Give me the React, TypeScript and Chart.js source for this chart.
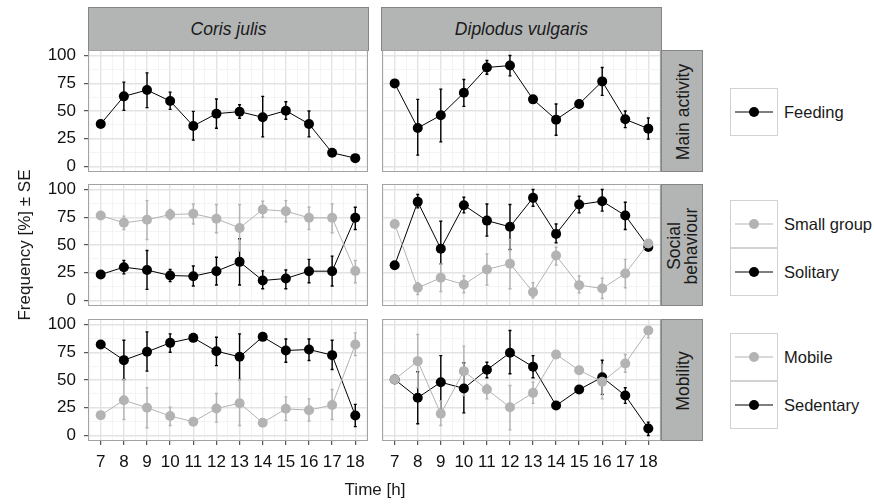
import React, { useEffect, useRef } from "react";
import { Chart, registerables } from "chart.js";
Chart.register(...registerables);

// ---------- data ----------
const hours = [7, 8, 9, 10, 11, 12, 13, 14, 15, 16, 17, 18];
const yTickValues = [0, 25, 50, 75, 100];
const speciesNames = ["Coris julis", "Diplodus vulgaris"];
const rowNames = ["Main activity", "Social\nbehaviour", "Mobility"];

// Main activity – Feeding
const corisFeedingMean = [38.3, 63.2, 68.9, 59, 36.5, 47.6, 49.4, 44.3, 50.3, 38.3, 12.3, 7.5];
const corisFeedingLo = [38.3, 50.6, 53, 51.5, 23.7, 34.5, 43.4, 26.7, 42.5, 26.7, 12.3, 7.5];
const corisFeedingHi = [38.3, 76, 84.4, 67, 49.7, 60.8, 55.7, 63.2, 58.3, 50, 12.3, 7.5];
const diplodusFeedingMean = [74.9, 34.7, 46.1, 66.4, 89.2, 91, 60.5, 42.2, 56.3, 76.7, 42.5, 34.1];
const diplodusFeedingLo = [74.9, 10.2, 22.2, 54.2, 83.2, 81.7, 60.5, 28.2, 56.3, 64.1, 35, 24.6];
const diplodusFeedingHi = [74.9, 60.5, 69.7, 78.4, 95.5, 100, 60.5, 56.3, 56.3, 89.2, 50, 43.7];

// Social behaviour – Small group / Solitary
const corisSmallMean = [76.6, 70, 72.7, 77.5, 78.1, 73.6, 65.4, 82, 80.5, 74.5, 74.5, 26.5];
const corisSmallLo = [76.6, 64, 55, 73, 69, 61, 44.5, 75, 70.9, 64, 61, 16];
const corisSmallHi = [76.6, 76, 90, 82, 87, 86.5, 86.5, 89.5, 90, 84, 87, 36];
const corisSolitaryMean = [23.4, 30, 27.4, 22.5, 21.9, 26.4, 34.8, 18, 19.8, 26.4, 26.4, 74.5];
const corisSolitaryLo = [23.4, 24, 10, 17, 13, 14, 14, 10.6, 10.6, 16, 13, 64];
const corisSolitaryHi = [23.4, 36, 45, 28, 31, 39, 55.6, 26.7, 27.5, 37, 40, 84];
const diplodusSmallMean = [69, 11.4, 20.4, 14.4, 28, 33.2, 7.5, 40.5, 13.8, 10.8, 24.3, 51.4];
const diplodusSmallLo = [69, 5.4, 8, 7, 14, 10.6, 2.4, 32, 7, 1.8, 11.5, 51.4];
const diplodusSmallHi = [69, 16, 33, 22, 42, 55, 16, 48, 22, 20, 37, 51.4];
const diplodusSolitaryMean = [31.8, 88.9, 46.6, 85.9, 72, 66.4, 92.5, 60, 86.5, 89.5, 76.6, 48.3];
const diplodusSolitaryLo = [31.8, 83.5, 33, 79, 58, 46, 85, 52, 79, 80.5, 64, 48.3];
const diplodusSolitaryHi = [31.8, 95.5, 71.4, 93, 87, 86.5, 100, 69, 94, 100, 88.6, 48.3];

// Mobility – Mobile / Sedentary
const corisMobileMean = [18.3, 31.8, 25, 17.5, 12.4, 24.3, 29.1, 11.5, 24, 22.8, 27.4, 82];
const corisMobileLo = [18.3, 14.4, 7, 9, 12.4, 12, 9, 11.5, 13.5, 13, 14.4, 72];
const corisMobileHi = [18.3, 50.5, 43, 25.5, 12.4, 37.8, 50.5, 11.5, 34.8, 33, 41.4, 92.5];
const corisSedentaryMean = [82, 67.9, 75.4, 83.5, 88, 76, 70.9, 88.9, 76.6, 77.5, 72.4, 18];
const corisSedentaryLo = [82, 50.5, 58, 75, 88, 63, 50.5, 88.9, 66, 67.6, 59.5, 8];
const corisSedentaryHi = [82, 85.9, 93.4, 91.6, 88, 88.6, 91.6, 88.9, 87, 87, 85.9, 28];
const diplodusMobileMean = [50.5, 67, 19.5, 58, 41.4, 25.5, 38.4, 73, 58.8, 48.5, 64.9, 94.6];
const diplodusMobileLo = [50.5, 43, 9, 36, 33, 5, 28.9, 73, 58.8, 33, 57, 88];
const diplodusMobileHi = [50.5, 91, 31, 80.5, 46, 45, 48, 73, 58.8, 64, 73, 98];
const diplodusSedentaryMean = [50.5, 34, 48, 42.4, 59.2, 74.5, 61.9, 27, 41.4, 52.5, 36, 6.3];
const diplodusSedentaryLo = [50.5, 10.5, 23.4, 20.4, 52, 55.6, 52, 27, 41.4, 37, 28.9, 0];
const diplodusSedentaryHi = [50.5, 57.5, 72, 65.5, 66, 94.6, 72, 27, 41.4, 67.8, 43, 12];

// ---------- styling ----------
const GRAY = "#b3b3b3";
const BLACK = "#000000";
const FONT = "'Liberation Sans', Arial, Helvetica, sans-serif";

type Series = { label: string; color: string; mean: number[]; lo: number[]; hi: number[] };

const s = (label: string, color: string, mean: number[], lo: number[], hi: number[]): Series => ({ label, color, mean, lo, hi });

const panels: Series[][][] = [
  [
    [s("Feeding", BLACK, corisFeedingMean, corisFeedingLo, corisFeedingHi)],
    [s("Feeding", BLACK, diplodusFeedingMean, diplodusFeedingLo, diplodusFeedingHi)],
  ],
  [
    [
      s("Small group", GRAY, corisSmallMean, corisSmallLo, corisSmallHi),
      s("Solitary", BLACK, corisSolitaryMean, corisSolitaryLo, corisSolitaryHi),
    ],
    [
      s("Small group", GRAY, diplodusSmallMean, diplodusSmallLo, diplodusSmallHi),
      s("Solitary", BLACK, diplodusSolitaryMean, diplodusSolitaryLo, diplodusSolitaryHi),
    ],
  ],
  [
    [
      s("Mobile", GRAY, corisMobileMean, corisMobileLo, corisMobileHi),
      s("Sedentary", BLACK, corisSedentaryMean, corisSedentaryLo, corisSedentaryHi),
    ],
    [
      s("Mobile", GRAY, diplodusMobileMean, diplodusMobileLo, diplodusMobileHi),
      s("Sedentary", BLACK, diplodusSedentaryMean, diplodusSedentaryLo, diplodusSedentaryHi),
    ],
  ],
];

// layout (page pixels)
const PANEL_L = [88, 381];
const PANEL_W = 281;
const PANEL_T = [50, 184, 319];
const PANEL_H = 122;
const Y_AXIS_W = 88;
const X_AXIS_H = 34;
const PAD = 10;

const xMinorTicks = hours.slice(0, -1).map((h, i) => (h + hours[i + 1]) / 2);
const xAllTicks = [hours[0] - 0.5, ...hours, ...xMinorTicks, hours[hours.length - 1] + 0.5];
const yMinorTicks = yTickValues.slice(0, -1).map((v, i) => (v + yTickValues[i + 1]) / 2);
const yAllTicks = [...yTickValues, ...yMinorTicks];

const errorBarPlugin = {
  id: "errorBars",
  beforeDatasetsDraw(chart: any) {
    const { ctx, chartArea, scales } = chart;
    const xs = scales.x;
    const ys = scales.y;
    ctx.save();
    ctx.beginPath();
    ctx.rect(chartArea.left, chartArea.top, chartArea.right - chartArea.left, chartArea.bottom - chartArea.top);
    ctx.clip();
    const list = chart.data.datasets;
    for (let d = list.length - 1; d >= 0; d--) {
      const ds = list[d];
      ctx.strokeStyle = ds.borderColor;
      ctx.lineWidth = 1.4;
      ds.lo.forEach((lo: number, i: number) => {
        const hi = ds.hi[i];
        if (hi - lo < 0.01) return;
        const x = xs.getPixelForValue(ds.data[i].x);
        const y1 = ys.getPixelForValue(lo);
        const y2 = ys.getPixelForValue(hi);
        ctx.beginPath();
        ctx.moveTo(x, y1);
        ctx.lineTo(x, y2);
        ctx.moveTo(x - 1.5, y1);
        ctx.lineTo(x + 1.5, y1);
        ctx.moveTo(x - 1.5, y2);
        ctx.lineTo(x + 1.5, y2);
        ctx.stroke();
      });
    }
    ctx.restore();
  },
};

const borderPlugin = {
  id: "panelBorder",
  afterDraw(chart: any) {
    const { ctx, chartArea } = chart;
    ctx.save();
    ctx.strokeStyle = "#a3a3a3";
    ctx.lineWidth = 1;
    ctx.strokeRect(
      Math.round(chartArea.left) + 0.5,
      Math.round(chartArea.top) + 0.5,
      Math.round(chartArea.right - chartArea.left) - 1,
      Math.round(chartArea.bottom - chartArea.top) - 1
    );
    ctx.restore();
  },
};

function Panel({ row, col }: { row: number; col: number }) {
  const ref = useRef<HTMLCanvasElement>(null);
  const showY = col === 0;
  const showX = row === panels.length - 1;
  const left = showY ? 0 : PANEL_L[col] - 4;
  const top = PANEL_T[row] - PAD;
  const width = (showY ? Y_AXIS_W : 4) + PANEL_W + 4;
  const height = PAD + PANEL_H + (showX ? X_AXIS_H + 4 : PAD);

  useEffect(() => {
    const series = panels[row][col];
    const isMajorX = (v: number) => hours.includes(v);
    const isMajorY = (v: number) => yTickValues.includes(v);
    const chart = new Chart(ref.current as HTMLCanvasElement, {
      type: "line",
      data: {
        datasets: series.map((sr) => ({
          label: sr.label,
          data: hours.map((h, i) => ({ x: h, y: sr.mean[i] })),
          borderColor: sr.color,
          backgroundColor: sr.color,
          pointBackgroundColor: sr.color,
          pointBorderWidth: 0,
          pointRadius: 5,
          borderWidth: 1,
          tension: 0,
          lo: sr.lo,
          hi: sr.hi,
        })) as any,
      },
      options: {
        animation: false,
        responsive: false,
        maintainAspectRatio: false,
        events: [],
        layout: {
          padding: { top: PAD, bottom: showX ? 4 : PAD, left: showY ? 0 : 4, right: 4 },
        },
        plugins: { legend: { display: false }, tooltip: { enabled: false } },
        scales: {
          x: {
            type: "linear",
            min: 6.45,
            max: 18.55,
            afterBuildTicks: (sc: any) => {
              sc.ticks = xAllTicks.map((v) => ({ value: v }));
            },
            afterFit: (sc: any) => {
              sc.height = showX ? X_AXIS_H : 0;
              sc.paddingLeft = 0;
              sc.paddingRight = 0;
              sc.paddingTop = 0;
              sc.paddingBottom = 0;
            },
            border: { display: false },
            grid: {
              color: (c: any) => (isMajorX(c.tick.value) ? "#e3e3e3" : "#f1f1f1"),
              lineWidth: (c: any) => (isMajorX(c.tick.value) ? 1.4 : 0.8),
              drawTicks: showX,
              tickLength: 4,
              tickColor: (c: any) => (isMajorX(c.tick.value) ? "#333333" : "rgba(0,0,0,0)"),
              tickWidth: 1,
            },
            ticks: {
              display: showX,
              autoSkip: false,
              maxRotation: 0,
              minRotation: 0,
              padding: 7,
              color: "#111111",
              font: { family: FONT, size: 17 },
              callback: (v: any) => (isMajorX(Number(v)) ? String(v) : ""),
            },
          },
          y: {
            type: "linear",
            min: -5,
            max: 105,
            afterBuildTicks: (sc: any) => {
              sc.ticks = yAllTicks.map((v) => ({ value: v }));
            },
            afterFit: (sc: any) => {
              sc.width = showY ? Y_AXIS_W : 0;
              sc.paddingLeft = 0;
              sc.paddingRight = 0;
              sc.paddingTop = 0;
              sc.paddingBottom = 0;
            },
            border: { display: false },
            grid: {
              color: (c: any) => (isMajorY(c.tick.value) ? "#e3e3e3" : "#f1f1f1"),
              lineWidth: (c: any) => (isMajorY(c.tick.value) ? 1.4 : 0.8),
              drawTicks: showY,
              tickLength: 4,
              tickColor: (c: any) => (isMajorY(c.tick.value) ? "#333333" : "rgba(0,0,0,0)"),
              tickWidth: 1,
            },
            ticks: {
              display: showY,
              autoSkip: false,
              padding: 8,
              color: "#111111",
              font: { family: FONT, size: 17 },
              callback: (v: any) => (isMajorY(Number(v)) ? String(v) : ""),
            },
          },
        },
      },
      plugins: [errorBarPlugin, borderPlugin],
    } as any);
    return () => chart.destroy();
  }, [row, col]);

  return (
    <canvas
      ref={ref}
      width={width}
      height={height}
      style={{ position: "absolute", left, top, width, height }}
    />
  );
}

const STRIP_FILL = "#b3b5b5";
const STRIP_BORDER = "#848484";
const TEXT = "#1a1a1a";

function LegendKey({ color, label, top }: { color: string; label: string; top: number }) {
  return (
    <>
      <div
        style={{
          position: "absolute",
          left: 730,
          top,
          width: 48,
          height: 48,
          boxSizing: "border-box",
          border: "1px solid #d2d2d2",
          background: "#ffffff",
        }}
      >
        <svg width={46} height={46} style={{ position: "absolute", left: 0, top: 0 }}>
          <line x1={4} y1={23} x2={42} y2={23} stroke={color} strokeWidth={1.2} />
          <circle cx={23} cy={23} r={5} fill={color} />
        </svg>
      </div>
      <div
        style={{
          position: "absolute",
          left: 784,
          top,
          height: 48,
          lineHeight: "48px",
          fontSize: 16.5,
          color: TEXT,
          whiteSpace: "nowrap",
        }}
      >
        {label}
      </div>
    </>
  );
}

export default function App() {
  const legendTops = [88, 200, 333];
  return (
    <div
      style={{
        position: "fixed",
        left: 0,
        top: 0,
        width: 874,
        height: 504,
        background: "#ffffff",
        fontFamily: FONT,
        overflow: "hidden",
      }}
    >
      {/* top strips */}
      {speciesNames.map((name, c) => (
        <div
          key={name}
          style={{
            position: "absolute",
            left: PANEL_L[c],
            top: 7,
            width: PANEL_W,
            height: PANEL_T[0] - 7 + 1,
            boxSizing: "border-box",
            background: STRIP_FILL,
            border: `1px solid ${STRIP_BORDER}`,
            display: "flex",
            alignItems: "center",
            justifyContent: "center",
            fontStyle: "italic",
            fontSize: 17.5,
            color: TEXT,
          }}
        >
          {name}
        </div>
      ))}
      {/* right strips */}
      {rowNames.map((name, r) => (
        <div
          key={name}
          style={{
            position: "absolute",
            left: PANEL_L[1] + PANEL_W - 1,
            top: PANEL_T[r],
            width: 42,
            height: PANEL_H,
            boxSizing: "border-box",
            background: STRIP_FILL,
            border: `1px solid ${STRIP_BORDER}`,
          }}
        >
          <div
            style={{
              position: "absolute",
              left: 21 - PANEL_H / 2,
              top: PANEL_H / 2 - 21,
              width: PANEL_H,
              height: 42,
              transform: "rotate(-90deg)",
              display: "flex",
              alignItems: "center",
              justifyContent: "center",
              textAlign: "center",
              whiteSpace: "pre-line",
              lineHeight: "17px",
              fontSize: 17.5,
              color: TEXT,
            }}
          >
            {name}
          </div>
        </div>
      ))}
      {/* panels */}
      {panels.map((rowPanels, r) =>
        rowPanels.map((_, c) => <Panel key={`${r}-${c}`} row={r} col={c} />)
      )}
      {/* legends */}
      {panels.map((rowPanels, r) =>
        rowPanels[0].map((sr, k) => (
          <LegendKey key={`${r}-${k}`} color={sr.color} label={sr.label} top={legendTops[r] + k * 48} />
        ))
      )}
      {/* axis titles */}
      <div
        style={{
          position: "absolute",
          left: PANEL_L[0],
          width: PANEL_L[1] + PANEL_W - PANEL_L[0],
          top: 479,
          height: 22,
          lineHeight: "22px",
          textAlign: "center",
          fontSize: 17,
          color: TEXT,
        }}
      >
        Time [h]
      </div>
      <div
        style={{
          position: "absolute",
          left: 25 - 150,
          top: 245 - 11,
          width: 300,
          height: 22,
          lineHeight: "22px",
          textAlign: "center",
          fontSize: 17,
          color: TEXT,
          transform: "rotate(-90deg)",
        }}
      >
        Frequency [%] ± SE
      </div>
    </div>
  );
}
